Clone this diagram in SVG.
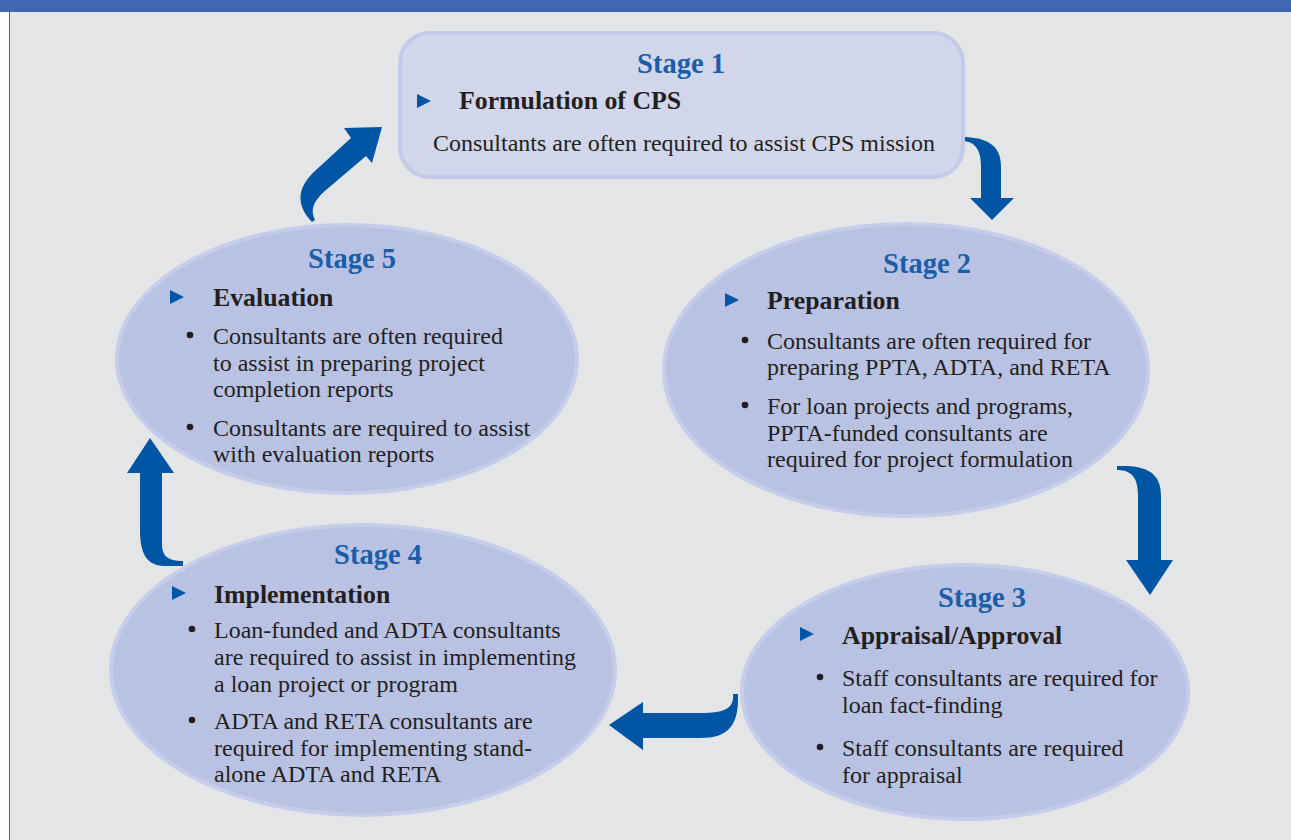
<svg xmlns="http://www.w3.org/2000/svg" width="1291" height="840" viewBox="0 0 1291 840">
  <style>
    .stage { font-family: "Liberation Serif", "DejaVu Serif", serif; font-weight: bold; font-size: 28.5px; fill: #1a5ea9; text-anchor: middle; }
    .head { font-family: "Liberation Serif", "DejaVu Serif", serif; font-weight: bold; font-size: 25.8px; fill: #231f20; }
    .body { font-family: "Liberation Serif", "DejaVu Serif", serif; font-size: 24px; fill: #231f20; }
    .oval { fill: #b9c2e3; stroke: #c6cdea; stroke-width: 4; }
    .box { fill: #d1d6ea; stroke: #c3cae8; stroke-width: 4; }
    .tri { fill: #0057a8; }
    .dot { fill: #231f20; }
    .arrow { fill: #0055a5; }
  </style>
  <defs>
    <polygon id="tri" class="tri" points="0,0 14,7 0,14"/>
    <circle id="dot" class="dot" r="3.3"/>
  </defs>

  <!-- page frame -->
  <rect x="0" y="0" width="1291" height="840" fill="#ffffff"/>
  <rect x="9" y="0" width="1282" height="840" fill="#e4e5e7"/>
  <rect x="0" y="0" width="1291" height="12" fill="#3f67b1"/>
  <line x1="9.5" y1="12" x2="9.5" y2="840" stroke="#3f67b1" stroke-width="1"/>

  <!-- connectors -->
  <g id="connectors">
    <path class="arrow" d="M962,137 C986,137 1001,145 1001,166 L1001,198 L1014,198 L992,220 L970,198 L981,198 L981,166 C981,150 975,141 962,141 Z"/>
    <path class="arrow" d="M1117,466 C1146,465 1161,472 1161,496 L1161,560 L1173,560 L1150,595 L1126,560 L1138,560 L1138,496 C1138,478 1132,470 1117,470 Z"/>
    <path class="arrow" d="M738,694 C739,726 728,738 700,738 L643,738 L643,750 L609,725 L643,702 L643,713 L700,713 C726,713 734,708 733,694 Z"/>
    <path class="arrow" d="M150,438 L174,473 L162,473 L162,544 C162,556 168,561 183,561 L183,566 L166,566 C148,566 140,556 140,530 L140,473 L127,473 Z"/>
    <path class="arrow" d="M382,127 L372,163 L366,156 L326,190 C313,201 310,210 315,220 L312,222 C297,206 295,189 316,170 L351,138 L344,128 Z"/>
  </g>

  <!-- Stage 1 -->
  <g id="stage1">
    <rect class="box" x="400" y="33" width="563" height="144" rx="30" ry="30"/>
    <text class="stage" x="681" y="73">Stage 1</text>
    <use href="#tri" x="417" y="94"/>
    <text class="head" x="459" y="109">Formulation of CPS</text>
    <text class="body" x="433" y="151">Consultants are often required to assist CPS mission</text>
  </g>

  <!-- Stage 2 -->
  <g id="stage2">
    <ellipse class="oval" cx="906" cy="370" rx="242" ry="146"/>
    <text class="stage" x="927" y="273">Stage 2</text>
    <use href="#tri" x="725" y="293"/>
    <text class="head" x="767" y="309">Preparation</text>
    <use href="#dot" x="745" y="340"/>
    <text class="body" x="767" y="349">Consultants are often required for</text>
    <text class="body" x="767" y="375">preparing PPTA, ADTA, and RETA</text>
    <use href="#dot" x="745" y="405"/>
    <text class="body" x="767" y="414">For loan projects and programs,</text>
    <text class="body" x="767" y="441">PPTA-funded consultants are</text>
    <text class="body" x="767" y="467">required for project formulation</text>
  </g>

  <!-- Stage 3 -->
  <g id="stage3">
    <ellipse class="oval" cx="965" cy="692" rx="223" ry="127"/>
    <text class="stage" x="982" y="607">Stage 3</text>
    <use href="#tri" x="800" y="627"/>
    <text class="head" x="842" y="644">Appraisal/Approval</text>
    <use href="#dot" x="820" y="677"/>
    <text class="body" x="842" y="686">Staff consultants are required for</text>
    <text class="body" x="842" y="713">loan fact-finding</text>
    <use href="#dot" x="820" y="747"/>
    <text class="body" x="842" y="756">Staff consultants are required</text>
    <text class="body" x="842" y="783">for appraisal</text>
  </g>

  <!-- Stage 4 -->
  <g id="stage4">
    <ellipse class="oval" cx="363" cy="670" rx="252" ry="145"/>
    <text class="stage" x="378" y="564">Stage 4</text>
    <use href="#tri" x="172" y="586"/>
    <text class="head" x="214" y="603">Implementation</text>
    <use href="#dot" x="192" y="629"/>
    <text class="body" x="214" y="638">Loan-funded and ADTA consultants</text>
    <text class="body" x="214" y="665">are required to assist in implementing</text>
    <text class="body" x="214" y="692">a loan project or program</text>
    <use href="#dot" x="192" y="720"/>
    <text class="body" x="214" y="729">ADTA and RETA consultants are</text>
    <text class="body" x="214" y="756">required for implementing stand-</text>
    <text class="body" x="214" y="782">alone ADTA and RETA</text>
  </g>

  <!-- Stage 5 -->
  <g id="stage5">
    <ellipse class="oval" cx="347" cy="359" rx="230" ry="134"/>
    <text class="stage" x="352" y="268">Stage 5</text>
    <use href="#tri" x="170" y="290"/>
    <text class="head" x="213" y="306">Evaluation</text>
    <use href="#dot" x="190" y="335"/>
    <text class="body" x="213" y="344">Consultants are often required</text>
    <text class="body" x="213" y="371">to assist in preparing project</text>
    <text class="body" x="213" y="397">completion reports</text>
    <use href="#dot" x="190" y="427"/>
    <text class="body" x="213" y="436">Consultants are required to assist</text>
    <text class="body" x="213" y="462">with evaluation reports</text>
  </g>
</svg>
